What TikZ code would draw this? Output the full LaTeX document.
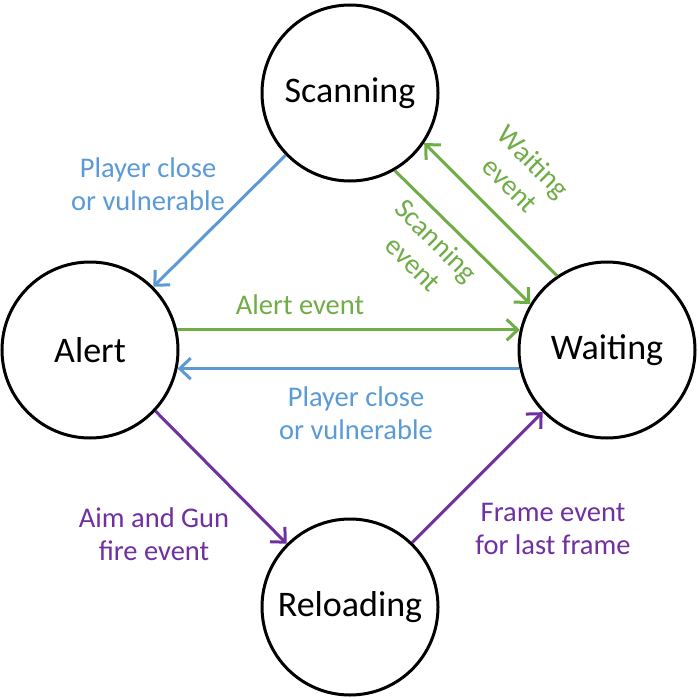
\documentclass[tikz,border=0pt]{standalone}
\usepackage{fontspec}
\setmainfont{Carlito}
\usetikzlibrary{arrows.meta}
\definecolor{cblue}{HTML}{5B9BD5}
\definecolor{cgreen}{HTML}{70AD47}
\definecolor{cpurple}{HTML}{7030A0}
\begin{document}
\begin{tikzpicture}[x=1pt,y=-1pt,
  state/.style={circle,draw=black,line width=3pt,minimum size=176pt,inner sep=0pt,font=\fontsize{36}{43}\selectfont},
  conn/.style={line width=3pt,-{Straight Barb[length=11pt,width=21pt,line width=3pt]}},
  lbl/.style={align=center,font=\fontsize{28.5}{33}\selectfont,inner sep=0pt}]
\useasboundingbox (0,0) rectangle (698,698);
\fill[white] (0,0) rectangle (698,698);
\node[state] (s) at (350,93) {Scanning};
\node[state] (a) at (90,350) {Alert};
\node[state] (w) at (607,350) {Waiting};
\node[state] (r) at (350,607) {Reloading};

\draw[conn,cblue] (s.224) -- (a.45);
\draw[conn,cgreen] (s.-60) -- (w.149);
\draw[conn,cgreen] (w.124) -- (s.-34);
\draw[conn,cgreen] (a.13) -- (w.167);
\draw[conn,cblue] (w.192) -- (a.-12);
\draw[conn,cpurple] (a.-43) -- (r.135);
\draw[conn,cpurple] (r.46) -- (w.224);

\node[lbl,text=cblue] (l1) at (148,184) {Player close\\or vulnerable};
\node[lbl,text=cgreen] (l2) at (300,305) {Alert event};
\node[lbl,text=cblue] (l3) at (356,413) {Player close\\or vulnerable};
\node[lbl,text=cpurple] (l4) at (154,534) {Aim and Gun\\fire event};
\node[lbl,text=cpurple] (l5) at (553,529) {Frame event\\for last frame};
\node[lbl,text=cgreen,rotate=-45] (l6) at (425,252) {Scanning\\event};
\node[lbl,text=cgreen,rotate=-45] (l7) at (522,173) {Waiting\\event};
\end{tikzpicture}
\end{document}
